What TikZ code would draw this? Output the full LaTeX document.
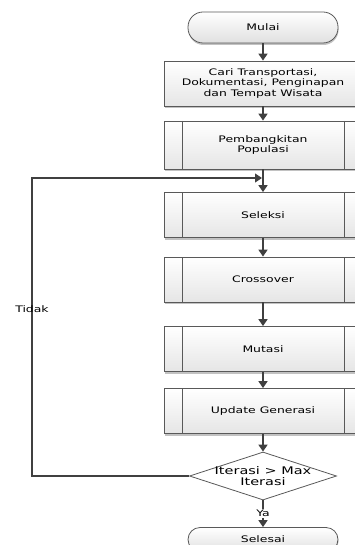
\documentclass[tikz,border=0pt]{standalone}
\usepackage{fontspec}
\setmainfont{DejaVu Sans}[FakeStretch=1.38]
\usetikzlibrary{arrows.meta,shapes.geometric,shadows}

\tikzset{
  boxline/.style={draw=black!65, line width=0.8pt},
  boxshadow/.style={drop shadow={shadow xshift=0.5pt, shadow yshift=-2pt, fill=black!40, opacity=0.6}},
  terminal/.style={boxline, boxshadow, rectangle, rounded corners=15pt, minimum width=150pt, minimum height=31pt, top color=white, bottom color=black!12},
  process/.style={boxline, boxshadow, rectangle, minimum width=198pt, minimum height=45pt, top color=white, bottom color=black!10, align=center},
  predef/.style={process, path picture={
      \draw[black!65, line width=0.8pt] ([xshift=18pt]path picture bounding box.north west) -- ([xshift=18pt]path picture bounding box.south west);
      \draw[black!65, line width=0.8pt] ([xshift=-18pt]path picture bounding box.north east) -- ([xshift=-18pt]path picture bounding box.south east);}},
  decision/.style={boxline, diamond, minimum width=147pt, minimum height=48pt, inner sep=0pt, fill=white},
  flow/.style={-{Triangle[length=7pt,width=9pt]}, line width=1.6pt, draw=black!75},
}

\begin{document}
\begin{tikzpicture}[x=1pt, y=1pt, font=\fontsize{9}{10.5}\selectfont]
\useasboundingbox (0,0) rectangle (355,-545);

\node(mulai) [terminal] at (263,-27.5) {Mulai};
\node(cari) [process] at (263,-83.5) {Cari Transportasi,\\Dokumentasi, Penginapan\\dan Tempat Wisata};
\node(bangkit) [predef, minimum height=48pt] at (263,-145) {Pembangkitan\\Populasi};
\node(seleksi) [predef] at (263,-215) {Seleksi};
\node(crossover) [predef] at (263,-279.5) {Crossover};
\node(mutasi) [predef] at (263,-349) {Mutasi};
\node(update) [predef] at (263,-411) {Update Generasi};
\node(cek) [decision, label={[align=center, font=\fontsize{10.5}{11.5}\selectfont]center:Iterasi > Max\\Iterasi}] at (263,-476) {};
\node(selesai) [terminal, minimum height=24pt, rounded corners=12pt] at (263,-539.5) {Selesai};

\coordinate(loop) at (32,-178);
\coordinate(merge) at (262,-178);

\draw[flow] (mulai) -- (cari);
\draw[flow] (cari) -- (bangkit);
\draw[flow] (bangkit) -- (seleksi);
\draw[flow] (seleksi) -- (crossover);
\draw[flow] (crossover) -- (mutasi);
\draw[flow] (mutasi) -- (update);
\draw[flow] (update) -- (cek);
\draw[flow] (cek) -- node[fill=white, inner sep=1pt] {Ya} (selesai);
\draw[flow, line width=1.2pt] (cek.west) -| node[pos=0.78] {Tidak} (loop) -- (merge);

\end{tikzpicture}
\end{document}
